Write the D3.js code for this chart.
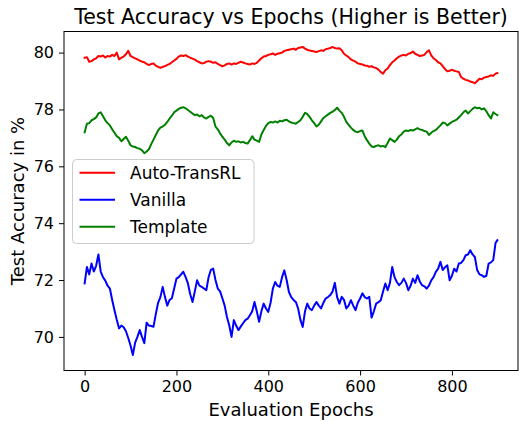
<!DOCTYPE html>
<html>
<head>
<meta charset="utf-8">
<script src="https://cdn.jsdelivr.net/npm/d3@7"></script>
<style>
  html, body { margin: 0; padding: 0; background: #ffffff; }
  svg { display: block; font-family: "DejaVu Sans", sans-serif; }
</style>
</head>
<body>
<svg id="chart" width="519" height="422"></svg>
<script>
// ---- data ----
const epochs = d3.range(0, 900, 5).concat([899]);

const autoTransRL = [
79.82,79.84,79.68,79.70,79.76,79.80,79.88,79.86,79.90,79.83,
79.88,79.86,79.92,79.88,80.00,79.76,79.82,79.86,79.94,80.06,
79.88,79.84,79.80,79.76,79.72,79.68,79.66,79.60,79.56,79.60,
79.62,79.54,79.50,79.46,79.50,79.52,79.57,79.60,79.66,79.72,
79.78,79.86,79.90,79.88,79.91,79.86,79.82,79.79,79.75,79.70,
79.66,79.62,79.63,79.68,79.70,79.68,79.64,79.66,79.60,79.56,
79.52,79.55,79.60,79.62,79.58,79.62,79.60,79.64,79.68,79.65,
79.62,79.60,79.58,79.62,79.60,79.64,79.72,79.80,79.86,79.88,
79.92,79.94,79.97,79.92,79.96,79.98,80.00,80.06,80.08,80.10,
80.12,80.14,80.10,80.16,80.18,80.20,80.14,80.10,80.07,80.06,
80.04,80.02,80.05,80.08,80.06,80.12,80.14,80.16,80.20,80.16,
80.14,80.15,80.08,79.96,79.90,79.84,79.76,79.72,79.68,79.62,
79.60,79.58,79.55,79.54,79.50,79.52,79.48,79.46,79.40,79.32,
79.26,79.38,79.44,79.56,79.66,79.72,79.80,79.86,79.90,79.92,
79.90,79.96,79.98,80.04,79.96,79.92,79.88,79.90,79.92,80.02,
80.08,79.90,79.80,79.74,79.66,79.62,79.52,79.42,79.34,79.36,
79.40,79.36,79.34,79.32,79.14,79.08,79.04,79.02,78.98,78.96,
78.92,79.00,79.08,79.06,79.12,79.14,79.16,79.20,79.18,79.26,
79.28];

const vanilla = [
71.88,72.46,72.20,72.58,72.30,72.50,72.90,72.30,72.10,71.98,
71.80,71.70,71.30,70.94,70.60,70.30,70.40,70.34,70.20,69.96,
69.70,69.36,69.80,70.00,70.24,70.00,69.78,70.50,70.40,70.38,
70.36,70.80,71.20,71.40,71.76,71.40,71.10,71.30,71.36,71.70,
72.05,72.10,72.20,72.29,72.10,71.88,71.50,71.23,71.60,71.99,
71.80,71.76,71.70,71.64,72.10,72.36,72.40,72.00,71.70,71.60,
71.36,71.10,70.70,70.40,70.00,70.59,70.40,70.24,70.36,70.48,
70.59,70.64,70.76,70.90,71.23,70.90,70.53,70.90,71.17,71.00,
70.88,71.20,71.70,71.93,71.80,71.76,72.10,72.34,72.00,71.58,
71.40,71.30,71.23,71.00,70.60,70.35,70.90,71.17,71.00,70.94,
71.10,71.23,71.10,71.00,71.20,71.35,71.40,71.47,71.60,71.90,
71.40,71.17,71.41,71.30,71.00,71.10,71.29,71.10,70.94,71.20,
71.35,71.53,71.40,71.35,71.41,70.68,70.90,71.17,71.22,71.29,
71.60,71.88,71.64,71.90,72.46,72.10,71.93,71.82,71.90,72.05,
71.90,71.64,71.80,72.05,71.90,72.17,71.95,71.82,71.78,71.70,
71.80,71.99,72.10,72.29,72.40,72.64,72.35,72.45,72.52,71.99,
72.15,72.40,72.30,72.58,72.60,72.70,72.87,72.90,73.05,72.90,
72.81,72.35,72.20,72.17,72.11,72.15,72.58,72.62,72.70,73.30,
73.40];

const template = [
77.20,77.50,77.52,77.62,77.66,77.72,77.86,77.90,77.76,77.62,
77.52,77.44,77.30,77.18,77.06,77.00,76.88,76.96,77.04,76.90,
76.74,76.70,76.68,76.64,76.62,76.56,76.46,76.52,76.60,76.78,
76.94,77.10,77.26,77.36,77.40,77.46,77.56,77.68,77.78,77.90,
77.96,78.02,78.06,78.08,78.04,77.98,77.92,77.86,77.80,77.82,
77.76,77.80,77.72,77.68,77.74,77.78,77.70,77.40,77.30,77.16,
77.04,76.94,76.82,76.74,76.84,76.90,76.86,76.88,76.84,76.86,
76.82,76.80,76.92,77.06,76.94,76.90,76.86,77.12,77.28,77.42,
77.52,77.56,77.54,77.58,77.54,77.60,77.58,77.62,77.64,77.58,
77.54,77.52,77.50,77.56,77.62,77.74,77.88,77.84,77.74,77.62,
77.52,77.40,77.46,77.58,77.70,77.76,77.82,77.88,77.92,77.98,
78.06,77.96,77.88,77.74,77.56,77.46,77.36,77.28,77.22,77.20,
77.24,77.26,77.06,76.92,76.80,76.70,76.68,76.72,76.74,76.70,
76.72,76.68,76.82,76.98,76.92,76.86,76.94,77.06,77.12,77.22,
77.26,77.24,77.28,77.26,77.30,77.34,77.30,77.28,77.24,77.22,
77.10,77.18,77.24,77.28,77.36,77.44,77.54,77.52,77.44,77.50,
77.56,77.60,77.64,77.72,77.80,77.90,77.96,77.86,77.94,78.02,
78.08,78.04,78.06,78.00,78.04,77.94,77.80,77.68,77.90,77.84,
77.80];

const seriesNames = ["Auto-TransRL", "Vanilla", "Template"];
const seriesColors = ["#ff0000", "#0000ff", "#008000"];
const xTicks = [0, 200, 400, 600, 800];
const yTicks = [70, 72, 74, 76, 78, 80];
const titleText = "Test Accuracy vs Epochs (Higher is Better)";
const xLabel = "Evaluation Epochs";
const yLabel = "Test Accuracy in %";

// ---- layout ----
const W = 519, H = 422;
const plot = { left: 64, right: 518, top: 31.5, bottom: 370.5 };

const svg = d3.select("#chart");
const allSeries = [autoTransRL, vanilla, template];

const xMin = d3.min(epochs), xMax = d3.max(epochs);
const xPad = (xMax - xMin) * 0.05;
const x = d3.scaleLinear().domain([xMin - xPad, xMax + xPad]).range([plot.left, plot.right]);

const yMin = d3.min(allSeries, s => d3.min(s)), yMax = d3.max(allSeries, s => d3.max(s));
const yPad = (yMax - yMin) * 0.05;
const y = d3.scaleLinear().domain([yMin - yPad, yMax + yPad]).range([plot.bottom, plot.top]);

// clip
svg.append("defs").append("clipPath").attr("id", "clip")
  .append("rect").attr("x", plot.left).attr("y", plot.top)
  .attr("width", plot.right - plot.left).attr("height", plot.bottom - plot.top);

// lines
const line = d3.line().x((d, i) => x(epochs[i])).y(d => y(d));
const g = svg.append("g").attr("clip-path", "url(#clip)");
allSeries.forEach((s, k) => {
  g.append("path").datum(s)
    .attr("fill", "none")
    .attr("stroke", seriesColors[k])
    .attr("stroke-width", 2)
    .attr("stroke-linejoin", "round")
    .attr("stroke-linecap", "square")
    .attr("d", line);
});

// axes
const xAxis = d3.axisBottom(x).tickValues(xTicks).tickSize(5).tickPadding(5).tickFormat(d3.format("d"));
const yAxis = d3.axisLeft(y).tickValues(yTicks).tickSize(5).tickPadding(5).tickFormat(d3.format("d"));

const gx = svg.append("g").attr("transform", `translate(0,${plot.bottom})`).call(xAxis);
const gy = svg.append("g").attr("transform", `translate(${plot.left},0)`).call(yAxis);
[gx, gy].forEach(a => {
  a.select(".domain").remove();
  a.selectAll(".tick line").attr("stroke", "#000").attr("stroke-width", 1);
  a.selectAll(".tick text").attr("fill", "#000").style("font-size", "16px").style("font-family", "DejaVu Sans");
});

// frame (spines)
svg.append("rect")
  .attr("x", plot.left).attr("y", plot.top)
  .attr("width", plot.right - plot.left).attr("height", plot.bottom - plot.top)
  .attr("fill", "none").attr("stroke", "#000").attr("stroke-width", 1);

// title & labels
svg.append("text").attr("x", (plot.left + plot.right) / 2).attr("y", 23.5)
  .attr("text-anchor", "middle").style("font-size", "20.5px").text(titleText);
svg.append("text").attr("x", (plot.left + plot.right) / 2).attr("y", 416)
  .attr("text-anchor", "middle").style("font-size", "18px").text(xLabel);
svg.append("text").attr("transform", `translate(24,${(plot.top + plot.bottom) / 2}) rotate(-90)`)
  .attr("text-anchor", "middle").style("font-size", "18px").text(yLabel);

// legend
const leg = svg.append("g").attr("transform", "translate(72.5,159.5)");
leg.append("rect").attr("width", 181.5).attr("height", 84).attr("rx", 4)
  .attr("fill", "#fff").attr("fill-opacity", 0.8).attr("stroke", "#cccccc").attr("stroke-width", 1);
seriesNames.forEach((n, k) => {
  const cy = 13.3 + k * 27;
  leg.append("line").attr("x1", 7).attr("x2", 42.5).attr("y1", cy).attr("y2", cy)
    .attr("stroke", seriesColors[k]).attr("stroke-width", 2);
  leg.append("text").attr("x", 57.5).attr("y", cy + 6.2).style("font-size", "17px").text(n);
});
</script>
</body>
</html>
